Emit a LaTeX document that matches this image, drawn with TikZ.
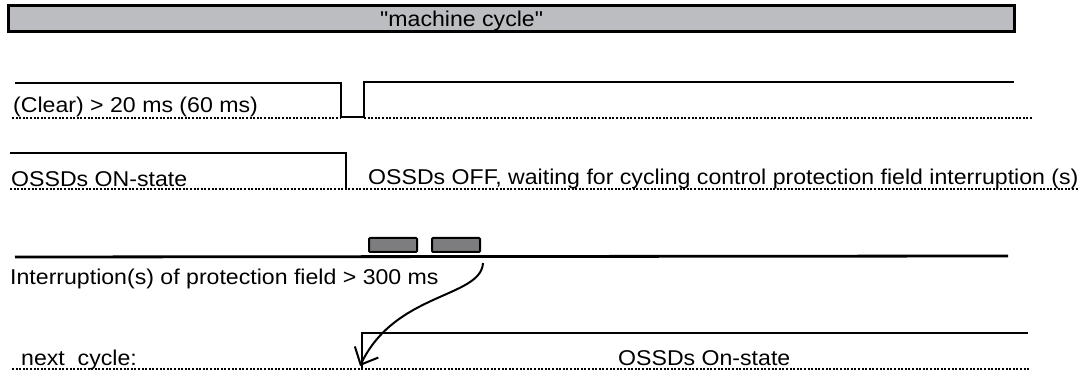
\documentclass[tikz,border=0pt]{standalone}
\usepackage{fontspec}
\setmainfont[FakeStretch=1.08]{Liberation Sans}
\newfontfamily\plainq[FakeStretch=1.08]{Liberation Sans}
\usetikzlibrary{arrows.meta}
\definecolor{barfill}{RGB}{188,189,193}
\definecolor{pulsefill}{RGB}{125,125,128}
\begin{document}
\begin{tikzpicture}[x=1pt,y=-1pt,
  sig/.style={line width=2.8pt,line join=miter},
  base/.style={line width=2.1pt,dash pattern=on 2pt off 1.6pt},
  lbl/.style={anchor=base west,inner sep=0pt,font=\fontsize{21.4}{25}\selectfont},
  pulse/.style={draw=black,line width=2pt,fill=pulsefill,rounded corners=1pt},
  barbox/.style={draw=black,line width=3pt,fill=barfill}]
\useasboundingbox (0,0) rectangle (1085,371);
% machine cycle bar
\draw[barbox] (8,6) rectangle (1014,32);
\node[lbl,font=\fontsize{21.4}{25}\plainq] (mc) at (380,27) {"machine cycle"};
% row 1
\draw[sig] (15,83) -- (341,83) -- (341,117) -- (364,117) -- (364,82) -- (1014,82);
\draw[base] (12,118) -- (341,118);
\draw[base] (364,118) -- (1033,118);
\node[lbl] (clear) at (13,113) {(Clear) > 20 ms (60 ms)};
% row 2
\draw[sig] (10,153) -- (346,153) -- (346,188);
\draw[base] (10,189) -- (1078,189);
\node[lbl] (on) at (11,187) {OSSDs ON-state};
\node[lbl] (off) at (368,185) {OSSDs OFF, waiting for cycling control protection field interruption (s)};
% row 3
\draw[sig] (15,257) -- (1008,256);
\node[pulse,minimum width=48pt,minimum height=14pt,inner sep=0pt] (p1) at (393,245) {};
\node[pulse,minimum width=48pt,minimum height=14pt,inner sep=0pt] (p2) at (456,245) {};
\node[lbl] (intr) at (10,285) {Interruption(s) of protection field > 300 ms};
% row 4
\draw[sig] (362,368) -- (362,333) -- (1028,333);
\draw[base] (12,369) -- (1030,369);
\node[lbl] (next) at (21,366) {next\ \ cycle:};
\node[lbl] (on2) at (618,366) {OSSDs On-state};
% arrow
\coordinate (tip) at (360,366);
\draw[line width=2pt,-{Straight Barb[length=14pt,width=26pt,line width=2pt]}]
  (p2.south east) ++(2,10) .. controls (481,298) and (395,292) .. (tip);
\end{tikzpicture}
\end{document}
